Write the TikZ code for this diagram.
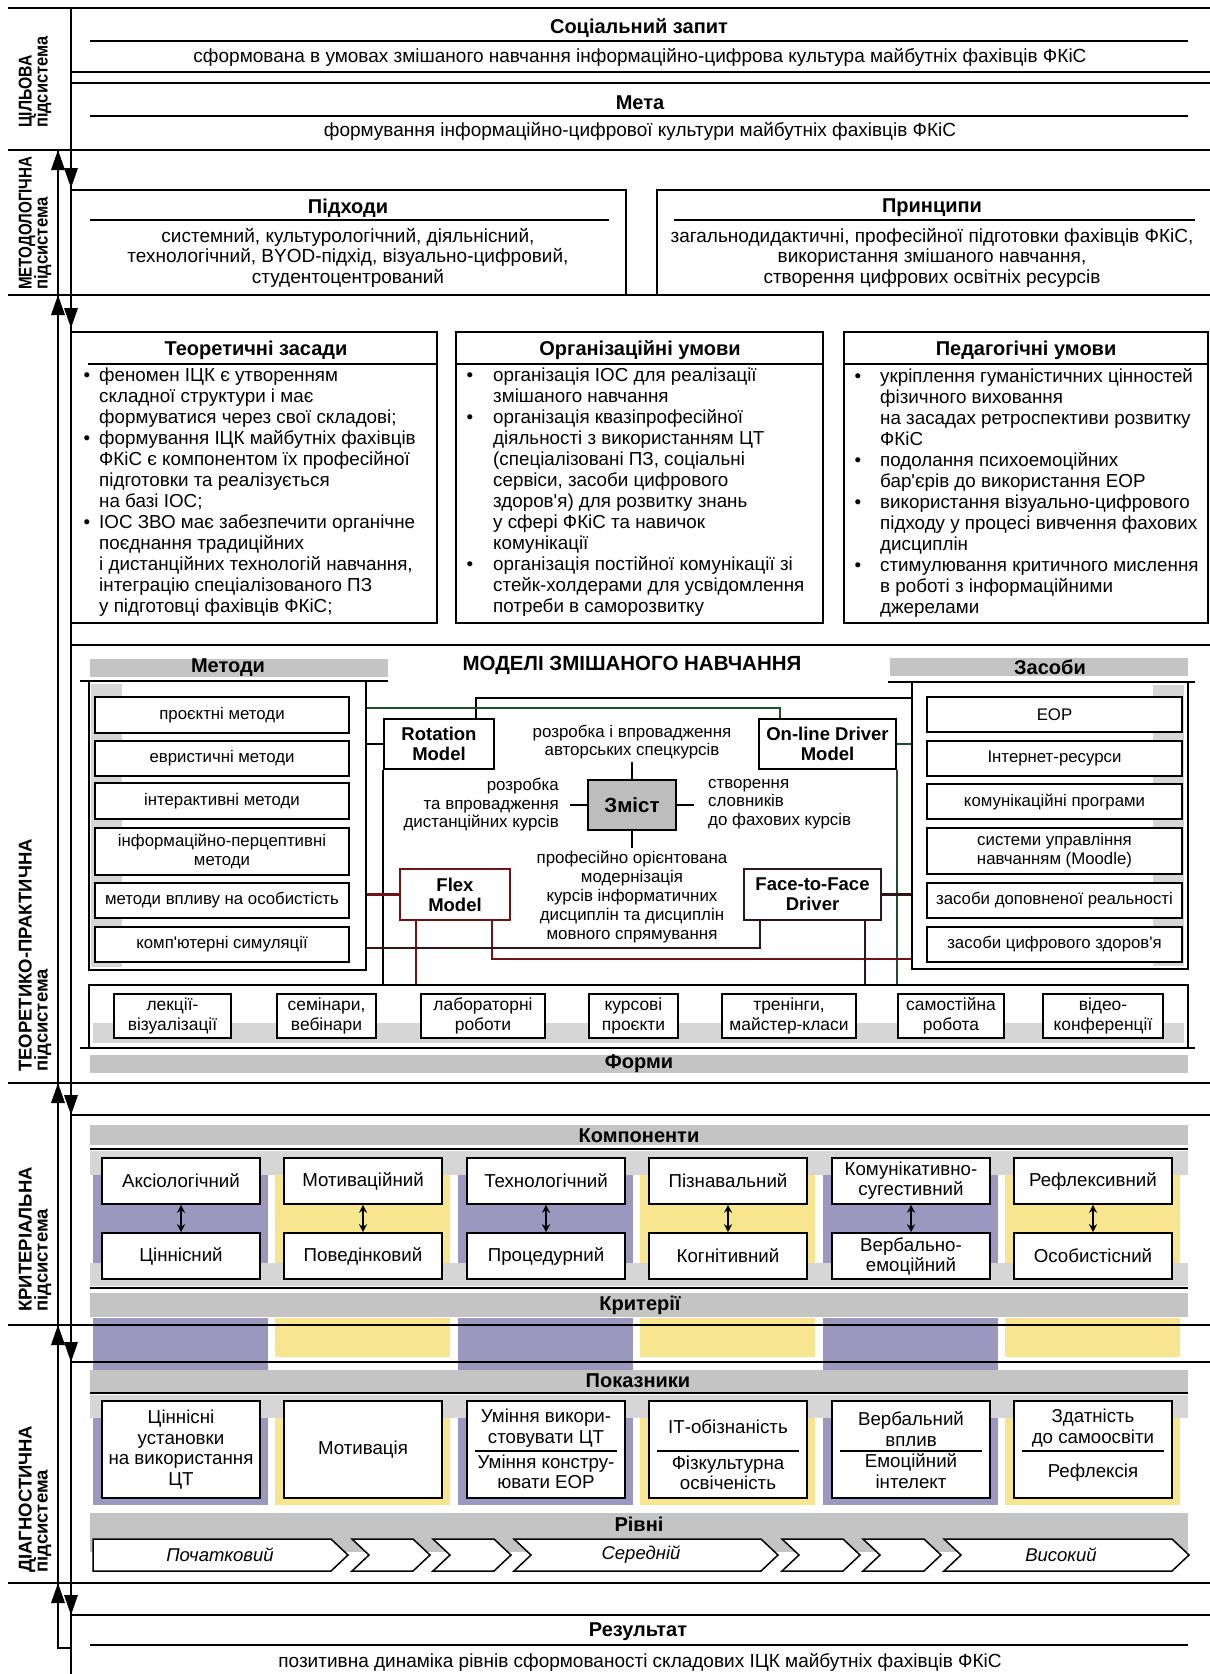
\documentclass[tikz,border=0pt]{standalone}
\usepackage{fontspec}
\usepackage{graphicx}
\setmainfont{Liberation Sans}
\usetikzlibrary{arrows.meta}
\definecolor{barg}{HTML}{C4C4C4}
\definecolor{shd}{HTML}{D6D6D6}
\definecolor{pur}{HTML}{9B97BE}
\definecolor{yel}{HTML}{F8E58F}
\definecolor{zmg}{HTML}{BDBDBD}
\definecolor{dgreen}{HTML}{1F4D2E}
\definecolor{dred}{HTML}{701216}
\definecolor{dmar}{HTML}{301618}
\newcommand\fz[2]{\fontsize{#1}{#2}\selectfont\lineskiplimit=-50pt\lineskip=0pt\relax}
\newcommand\ap{\textquotesingle}
\newcommand\mkbx[7][]{\node[#1,minimum width={#5-#3},minimum height={#6-#4}] (#2) at ({(#3+#5)/2},{(#4+#6)/2}) {#7};}
\tikzset{
  frm/.style={draw,line width=2.6pt,inner sep=0pt},
  itm/.style={draw,line width=1.6pt,fill=white,inner sep=0pt,align=center,font=\fz{16.8}{19}},
  fitm/.style={draw,line width=1.6pt,fill=white,inner sep=0pt,align=center,font=\fz{17.4}{20}},
  mdl/.style={draw,line width=2.6pt,fill=white,inner sep=0pt,align=center,font=\bfseries\fz{18.5}{20}},
  cmp/.style={draw,line width=1.6pt,fill=white,inner sep=0pt,align=center,font=\fz{18.7}{20}},
  ind/.style={draw,line width=1.6pt,fill=white,inner sep=0pt,align=center,font=\fz{18.7}{20.5}},
  itx/.style={inner sep=0pt,align=center,font=\fz{18.7}{20.5}},
  ttl/.style={inner sep=0pt,font=\bfseries\fz{20}{22}},
  txt/.style={inner sep=0pt,align=center,font=\fz{19}{20.5}},
  stx/.style={inner sep=0pt,font=\fz{16.9}{18.5}},
  blt/.style={anchor=west,align=left,inner sep=0pt,font=\fz{18.8}{21}},
  lbl/.style={rotate=90,anchor=west,align=left,inner sep=0pt,font=\bfseries\fz{18.5}{16}},
  ul/.style={line width=2pt},
  sep/.style={line width=2.8pt},
  cn/.style={line width=2.2pt},
  dbl/.style={line width=1.8pt,{Stealth[length=8pt,width=8pt]}-{Stealth[length=8pt,width=8pt]}},
  chv/.style={draw,line width=1.5pt,fill=white},
  lvl/.style={inner sep=0pt,font=\itshape\fz{18.5}{20}},
}
\begin{document}
\begin{tikzpicture}[x=1pt,y=-1pt]
\useasboundingbox (0,0) rectangle (1210,1674);
\fill[white] (0,0) rectangle (1210,1674);

% ---------------- backgrounds ----------------
\fill[barg] (90,659) rectangle (388,677);
\fill[barg] (890,658) rectangle (1188,676);
\fill[shd] (91,684) rectangle (122,967);
\fill[shd] (1153,685) rectangle (1184,966);
\fill[shd] (93,1023) rectangle (1184,1043);
\fill[barg] (90,1055) rectangle (1188,1073);
\fill[barg] (90,1125) rectangle (1188,1145);
\fill[shd] (90,1151) rectangle (1188,1175);
\fill[shd] (90,1263) rectangle (1188,1286);
\fill[barg] (90,1293) rectangle (1188,1317);
\fill[barg] (90,1370) rectangle (1188,1392);
\fill[shd] (90,1395) rectangle (1188,1418);
\fill[barg] (90,1513) rectangle (1188,1552);
\foreach \i/\cc/\ye in {0/pur/1370,1/yel/1357,2/pur/1370,3/yel/1357,4/pur/1370,5/yel/1357} {
  \pgfmathsetmacro\xl{93+182.4*\i}
  \fill[\cc] (\xl,1175) rectangle (\xl+175,1263);
  \fill[\cc] (\xl,1318) rectangle (\xl+175,\ye);
  \fill[\cc] (\xl,1418) rectangle (\xl+175,1505);
}

% ---------------- separators and left arrows ----------------
\draw[sep] (8,8) -- (1212,8);
\foreach \yy in {150,295,1083,1325,1583} \draw[sep] (8,\yy) -- (1212,\yy);
\draw[sep] (71,8) -- (71,1674);
\draw[sep] (58,150) -- (58,1648) -- (71,1648);
\foreach \t in {150,295,1083,1325,1583} \fill (58,\t) -- (51,\t+20) -- (65,\t+20) -- cycle;
\foreach \t in {188,328,1115,1362,1615} \fill (71,\t) -- (64,\t-20) -- (78,\t-20) -- cycle;

% subsystem labels
\node[lbl] (l1) at (35,128) {\scalebox{0.85}[1]{ЦІЛЬОВА}\\\scalebox{0.89}[1]{підсистема}};
\node[lbl] (l2) at (35,290) {\scalebox{0.82}[1]{МЕТОДОЛОГІЧНА}\\\scalebox{0.9}[1]{підсистема}};
\node[lbl] (l3) at (35,1072) {ТЕОРЕТИКО-ПРАКТИЧНА\\підсистема};
\node[lbl] (l4) at (35,1312) {КРИТЕРІАЛЬНА\\підсистема};
\node[lbl] (l5) at (35,1573) {ДІАГНОСТИЧНА\\підсистема};

% ---------------- goal subsystem ----------------
\mkbx[frm]{soc}{71}{8}{1216}{72}{}
\node[ttl] (socT) at (639,28) {Соціальний запит};
\draw[ul] (90,41) -- (1188,41);
\node[txt] (socX) at (640,57) {сформована в умовах змішаного навчання інформаційно-цифрова культура майбутніх фахівців ФКіС};
\mkbx[frm]{meta}{71}{83}{1216}{150}{}
\node[ttl] (metaT) at (640,103) {Мета};
\draw[ul] (90,116) -- (1188,116);
\node[txt] (metaX) at (640,131) {формування інформаційно-цифрової культури майбутніх фахівців ФКіС};

% ---------------- methodological ----------------
\mkbx[frm]{pidh}{71}{190}{626}{295}{}
\node[ttl] (pidhT) at (348,208) {Підходи};
\draw[ul] (90,220) -- (609,220);
\node[txt] (pidhX) at (348,257.5) {системний, культурологічний, діяльнісний,\\технологічний, BYOD-підхід, візуально-цифровий,\\студентоцентрований};
\mkbx[frm]{prin}{657}{190}{1216}{295}{}
\node[ttl] (prinT) at (932,208) {Принципи};
\draw[ul] (674,220) -- (1195,220);
\node[txt] (prinX) at (932,257.5) {загальнодидактичні, професійної підготовки фахівців ФКіС,\\використання змішаного навчання,\\створення цифрових освітніх ресурсів};

% ---------------- theoretical-practical ----------------
\mkbx[frm]{teor}{71}{332}{437}{623}{}
\node[ttl] (teorT) at (256,350) {Теоретичні засади};
\draw[ul] (88,364) -- (437,364);
\node[blt] (teorX) at (99,492.5) {\llap{•\hspace{9pt}}феномен ІЦК є утворенням\\складної структури і має\\формуватися через свої складові;\\\llap{•\hspace{9pt}}формування ІЦК майбутніх фахівців\\ФКіС є компонентом їх професійної\\підготовки та реалізується\\на базі ІОС;\\\llap{•\hspace{9pt}}ІОС ЗВО має забезпечити органічне\\поєднання традиційних\\і дистанційних технологій навчання,\\інтеграцію спеціалізованого ПЗ\\у підготовці фахівців ФКіС;};

\mkbx[frm]{org}{456}{332}{823}{623}{}
\node[ttl] (orgT) at (640,350) {Організаційні умови};
\draw[ul] (456,364) -- (823,364);
\node[blt] (orgX) at (493,492.5) {\llap{•\hspace{20pt}}організація ІОС для реалізації\\змішаного навчання\\\llap{•\hspace{20pt}}організація квазіпрофесійної\\діяльності з використанням ЦТ\\(спеціалізовані ПЗ, соціальні\\сервіси, засоби цифрового\\здоров\ap я) для розвитку знань\\у сфері ФКіС та навичок\\комунікації\\\llap{•\hspace{20pt}}організація постійної комунікації зі\\стейк-холдерами для усвідомлення\\потреби в саморозвитку};

\mkbx[frm]{ped}{844}{332}{1208}{623}{}
\node[ttl] (pedT) at (1026,350) {Педагогічні умови};
\draw[ul] (844,364) -- (1208,364);
\node[blt] (pedX) at (880,492.5) {\llap{•\hspace{19pt}}укріплення гуманістичних цінностей\\фізичного виховання\\на засадах ретроспективи розвитку\\ФКіС\\\llap{•\hspace{19pt}}подолання психоемоційних\\бар\ap єрів до використання ЕОР\\\llap{•\hspace{19pt}}використання візуально-цифрового\\підходу у процесі вивчення фахових\\дисциплін\\\llap{•\hspace{19pt}}стимулювання критичного мислення\\в роботі з інформаційними\\джерелами};

% models block
\mkbx[frm]{models}{71}{645}{1216}{1083}{}
\node[ttl,font=\bfseries\fz{20.5}{22}] (modT) at (632,665) {МОДЕЛІ ЗМІШАНОГО НАВЧАННЯ};
\node[ttl] (metT) at (228,668) {Методи};
\draw[ul] (80,681) -- (388,681);
\mkbx[frm]{metf}{89}{681}{366}{970}{}
\mkbx[itm]{m1}{95}{697}{349}{733}{проєктні методи}
\mkbx[itm]{m2}{95}{741}{349}{776}{евристичні методи}
\mkbx[itm]{m3}{95}{783}{349}{819}{інтерактивні методи}
\mkbx[itm]{m4}{95}{828}{349}{875}{інформаційно-перцептивні\\методи}
\mkbx[itm]{m5}{95}{883}{349}{918}{методи впливу на особистість}
\mkbx[itm]{m6}{95}{927}{349}{962}{комп\ap ютерні симуляції}

\node[ttl] (zasT) at (1050,667) {Засоби};
\draw[ul] (888,682) -- (1195,682);
\mkbx[frm]{zasf}{912}{682}{1188}{969}{}
\mkbx[itm]{z1}{927}{697}{1182}{732}{ЕОР}
\mkbx[itm]{z2}{927}{741}{1182}{776}{Інтернет-ресурси}
\mkbx[itm]{z3}{927}{784}{1182}{819}{комунікаційні програми}
\mkbx[itm]{z4}{927}{828}{1182}{874}{системи управління\\навчанням (Moodle)}
\mkbx[itm]{z5}{927}{883}{1182}{918}{засоби доповненої реальності}
\mkbx[itm]{z6}{927}{927}{1182}{962}{засоби цифрового здоров\ap я}

\mkbx[frm]{forms}{89}{985}{1188}{1048}{}
\draw[sep] (80,1048) -- (1195,1048);
\mkbx[fitm]{f1}{114}{994}{231}{1038}{лекції-\\візуалізації}
\mkbx[fitm]{f2}{277}{994}{376}{1038}{семінари,\\вебінари}
\mkbx[fitm]{f3}{421}{994}{545}{1038}{лабораторні\\роботи}
\mkbx[fitm]{f4}{589}{994}{678}{1038}{курсові\\проєкти}
\mkbx[fitm]{f5}{722}{994}{856}{1038}{тренінги,\\майстер-класи}
\mkbx[fitm]{f6}{898}{994}{1004}{1038}{самостійна\\робота}
\mkbx[fitm]{f7}{1043}{994}{1163}{1038}{відео-\\конференції}
\node[ttl] (formT) at (639,1064) {Форми};

\mkbx[mdl]{rot}{384}{719}{494}{769}{Rotation\\Model}
\mkbx[mdl]{onl}{759}{719}{896}{769}{On-line Driver\\Model}
\mkbx[mdl,draw=dred]{flex}{400}{869}{510}{920}{Flex\\Model}
\mkbx[mdl,draw=dmar]{f2f}{744}{869}{881}{920}{Face-to-Face\\Driver}
\mkbx[mdl,line width=2pt,fill=zmg,font=\bfseries\fz{20.5}{22}]{zm}{588}{780}{676}{830}{Зміст}

\coordinate (h698) at (0,698);
\coordinate (h708) at (0,708);
\coordinate (h948) at (0,948);
\coordinate (h959) at (0,959);
\draw[cn] (metf.east |- rot.west) -- (rot.west);
\draw[cn] ([xshift=37pt]rot.north) |- (zasf.west |- h698);
\draw[cn] (rot.south west) -- (rot.south west |- forms.north);
\draw[cn,dgreen] (metf.east |- h708) -| ([xshift=-47.5pt]onl.north);
\draw[cn,dgreen] (onl.east) -- (zasf.west |- onl.east);
\draw[cn,dgreen] (onl.south east) -- (onl.south east |- forms.north);
\draw[cn,dred] (metf.east |- flex.west) -- (flex.west);
\draw[cn,dred] ([xshift=-39pt]flex.south) -- ([xshift=-39pt]flex.south |- forms.north);
\draw[cn,dred] ([xshift=37pt]flex.south) |- (zasf.west |- h959);
\draw[cn,dmar] (metf.east |- h948) -| ([xshift=-52.5pt]f2f.south);
\draw[cn,dmar] (f2f.east) -- (zasf.west |- f2f.east);
\draw[cn,dmar] ([xshift=52.5pt]f2f.south) -- ([xshift=52.5pt]f2f.south |- forms.north);
\draw[cn] (zm.north) -- ++(0,-17);
\draw[cn] (zm.south) -- ++(0,17);
\draw[cn] (zm.west) -- ++(-17,0);
\draw[cn] (zm.east) -- ++(17,0);
\node[stx,align=center] (zt1) at (632,742) {розробка і впровадження\\авторських спецкурсів};
\node[stx,align=right,anchor=east] (zt2) at (559,805) {розробка\\та впровадження\\дистанційних курсів};
\node[stx,align=left,anchor=west] (zt3) at (708,804) {створення\\словників\\до фахових курсів};
\node[stx,align=center,font=\fz{16.9}{19}] (zt4) at (632,897) {професійно орієнтована\\модернізація\\курсів інформатичних\\дисциплін та дисциплін\\мовного спрямування};

% ---------------- criteria ----------------
\draw[sep] (71,1115) -- (1212,1115);
\node[ttl] (compT) at (639,1136) {Компоненти};
\draw[ul] (90,1149) -- (1188,1149);
\draw[ul] (90,1288) -- (1188,1288);
\node[ttl] (critT) at (640,1305) {Критерії};
\mkbx[cmp]{c1t}{102}{1158}{260}{1204}{Аксіологічний}
\mkbx[cmp]{c2t}{284}{1158}{442}{1204}{Мотиваційний}
\mkbx[cmp]{c3t}{467}{1158}{625}{1204}{Технологічний}
\mkbx[cmp]{c4t}{649}{1158}{807}{1204}{Пізнавальний}
\mkbx[cmp]{c5t}{832}{1158}{990}{1204}{Комунікативно-\\сугестивний}
\mkbx[cmp]{c6t}{1014}{1158}{1172}{1204}{Рефлексивний}
\mkbx[cmp]{c1b}{102}{1233}{260}{1279}{Ціннісний}
\mkbx[cmp]{c2b}{284}{1233}{442}{1279}{Поведінковий}
\mkbx[cmp]{c3b}{467}{1233}{625}{1279}{Процедурний}
\mkbx[cmp]{c4b}{649}{1233}{807}{1279}{Когнітивний}
\mkbx[cmp]{c5b}{832}{1233}{990}{1279}{Вербально-\\емоційний}
\mkbx[cmp]{c6b}{1014}{1233}{1172}{1279}{Особистісний}
\foreach \k in {1,...,6} \draw[dbl] (c\k t.south) -- (c\k b.north);

% ---------------- diagnostic ----------------
\draw[sep] (71,1362) -- (1212,1362);
\node[ttl] (indT) at (638,1381) {Показники};
\draw[ul] (90,1393) -- (1188,1393);
\mkbx[ind]{i1}{102}{1401}{260}{1498}{Ціннісні\\установки\\на використання\\ЦТ}
\mkbx[ind]{i2}{284}{1401}{442}{1498}{Мотивація}
\mkbx[ind]{i3}{467}{1401}{625}{1498}{}
\mkbx[ind]{i4}{649}{1401}{807}{1498}{}
\mkbx[ind]{i5}{832}{1401}{990}{1498}{}
\mkbx[ind]{i6}{1014}{1401}{1172}{1498}{}
\node[itx] (i3a) at (546,1428) {Уміння викори-\\стовувати ЦТ};
\node[itx] (i3b) at (546,1472) {Уміння констру-\\ювати ЕОР};
\node[itx] (i4a) at (728,1427) {ІТ-обізнаність};
\node[itx] (i4b) at (728,1473) {Фізкультурна\\освіченість};
\node[itx] (i5a) at (911,1429) {Вербальний\\вплив};
\node[itx] (i5b) at (911,1471) {Емоційний\\інтелект};
\node[itx] (i6a) at (1093,1428) {Здатність\\до самоосвіти};
\node[itx] (i6b) at (1093,1473) {Рефлексія};
\draw[line width=1.5pt] (475,1451) -- (617,1451);
\draw[line width=1.5pt] (657,1451) -- (799,1451);
\draw[line width=1.5pt] (840,1451) -- (982,1451);
\draw[line width=1.5pt] (1022,1451) -- (1164,1451);

\node[ttl] (lvlT) at (639,1524) {Рівні};
\draw[chv] (93,1539) -- (331,1539) -- (348,1555) -- (331,1571) -- (93,1571) -- cycle;
\foreach \L/\R in {352/413,433/494,514/761,782/843,863/924,944/1172}
  \draw[chv] (\L,1539) -- (\R,1539) -- (\R+17,1555) -- (\R,1571) -- (\L,1571) -- (\L+17,1555) -- cycle;
\node[lvl] (lv1) at (220,1555) {Початковий};
\node[lvl] (lv2) at (641,1555) {Середній};
\node[lvl] (lv3) at (1061,1555) {Високий};

% ---------------- result ----------------
\draw[sep] (71,1615) -- (1212,1615);
\node[ttl] (resT) at (638,1632) {Результат};
\draw[ul] (90,1645) -- (1188,1645);
\node[txt] (resX) at (640,1662) {позитивна динаміка рівнів сформованості складових ІЦК майбутніх фахівців ФКіС};
\end{tikzpicture}
\end{document}
